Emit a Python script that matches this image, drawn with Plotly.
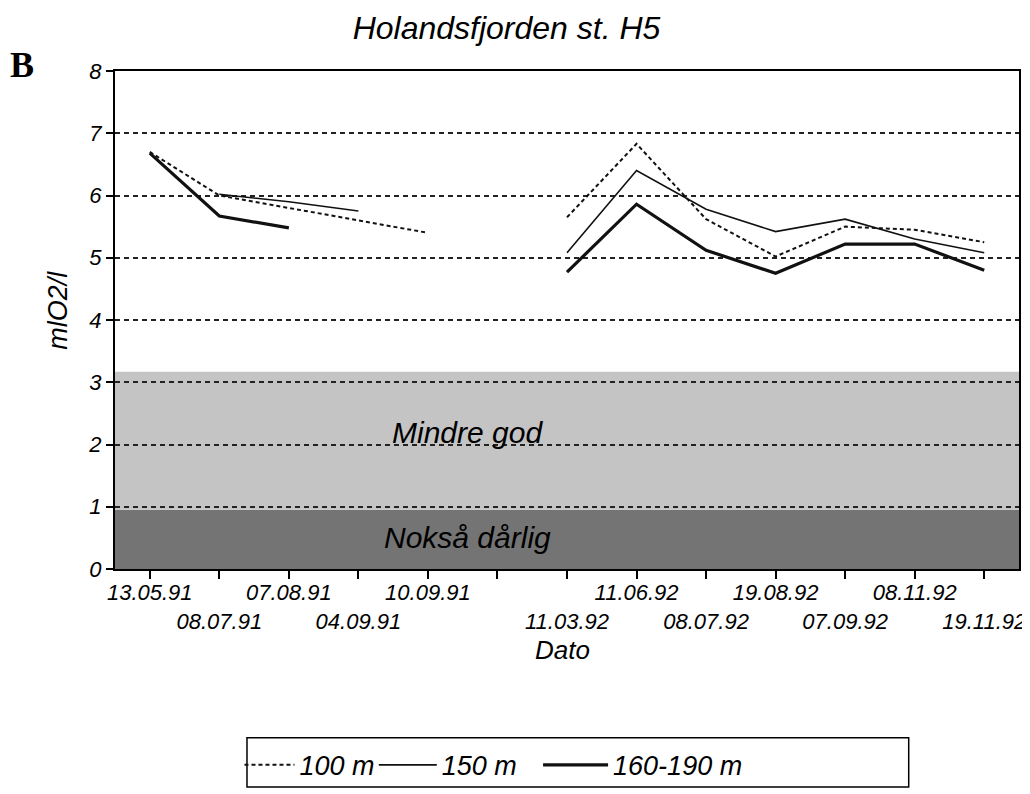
import plotly.graph_objects as go

# ---------------- data ----------------
dates = ["13.05.91", "08.07.91", "07.08.91", "04.09.91", "10.09.91", "gap",
         "11.03.92", "11.06.92", "08.07.92", "19.08.92", "07.09.92", "08.11.92", "19.11.92"]
tick_labels = ["13.05.91", "<br>08.07.91", "07.08.91", "<br>04.09.91", "10.09.91", "",
               "<br>11.03.92", "11.06.92", "<br>08.07.92", "19.08.92", "<br>07.09.92", "08.11.92", "<br>19.11.92"]

o2_100m = [6.70, 6.00, 5.80, 5.60, 5.40, None, 5.65, 6.83, 5.62, 5.02, 5.50, 5.45, 5.25]
o2_150m = [None, 6.02, 5.90, 5.75, None, None, 5.08, 6.40, 5.78, 5.42, 5.62, 5.30, 5.08]
o2_160_190m = [6.68, 5.67, 5.48, None, None, None, 4.77, 5.86, 5.12, 4.75, 5.22, 5.22, 4.80]

series_names = ["100 m", "150 m", "160-190 m"]

band_limits = [0, 0.95, 3.17]       # Nokså dårlig / Mindre god
band_labels = ["Nokså dårlig", "Mindre god"]
y_ticks = [0, 1, 2, 3, 4, 5, 6, 7, 8]

FONT = "Liberation Sans"
ital = dict(family=FONT, color="black", style="italic")

fig = go.Figure()

styles = [
    dict(color="#111111", width=2, dash="4px,3px"),
    dict(color="#111111", width=1.6),
    dict(color="#111111", width=3.2),
]
legend_ids = ["legend", "legend2", "legend3"]
for name, vals, st, lg in zip(series_names, [o2_100m, o2_150m, o2_160_190m], styles, legend_ids):
    fig.add_trace(go.Scatter(x=dates, y=vals, mode="lines", name=name,
                             line=st, connectgaps=False, legend=lg))

# quality bands
band_colors = ["#747474", "#c4c4c4"]
for lo, hi, col in zip(band_limits[:-1], band_limits[1:], band_colors):
    fig.add_shape(type="rect", xref="paper", yref="y", x0=0, x1=1, y0=lo, y1=hi,
                  fillcolor=col, line=dict(width=0), layer="between")

band_text_y = [0.5, 2.2]
for lab, yv in zip(band_labels, band_text_y):
    fig.add_annotation(text=lab, xref="paper", yref="y", x=0.39, y=yv,
                       xanchor="center", yanchor="middle",
                       showarrow=False, font=dict(size=30, **ital))

# panel letter
fig.add_annotation(text="<b>B</b>", xref="paper", yref="paper", x=-0.1025, y=1.012,
                   xanchor="center", yanchor="middle",
                   showarrow=False, font=dict(size=36, family="Liberation Serif", color="black"))
# y axis title
fig.add_annotation(text="mlO2/l", xref="paper", yref="paper", x=-0.064, y=0.519,
                   xanchor="center", yanchor="middle",
                   textangle=-90, showarrow=False, font=dict(size=27, **ital))
# x axis title
fig.add_annotation(text="Dato", xref="paper", yref="paper", x=0.495, y=-0.162,
                   xanchor="center", yanchor="middle",
                   showarrow=False, font=dict(size=26, **ital))

# legend box
fig.add_shape(type="rect", xref="paper", yref="paper", x0=0.146, x1=0.878,
              y0=-0.438, y1=-0.339, line=dict(color="black", width=1.5),
              fillcolor="white", layer="above")

leg_common = dict(orientation="h", y=-0.345, xanchor="left", yanchor="top",
                  font=dict(size=27, **ital), bgcolor="rgba(0,0,0,0)")

fig.update_layout(
    width=1030, height=794,
    margin=dict(l=107, r=15, t=63, b=224),
    paper_bgcolor="white", plot_bgcolor="white",
    title=dict(text="Holandsfjorden st. H5", x=0.484, xanchor="center", xref="container",
               y=0.975, yanchor="middle", yref="container", font=dict(size=32, **ital)),
    showlegend=True,
    legend=dict(x=0.1377, itemwidth=50, **leg_common),
    legend2=dict(x=0.2863, itemwidth=58, **leg_common),
    legend3=dict(x=0.468, itemwidth=65, **leg_common),
    xaxis=dict(type="category", categoryorder="array", categoryarray=dates,
               range=[-0.5, 12.5], tickmode="array", tickvals=dates, ticktext=tick_labels,
               tickangle=0, ticklabelstandoff=-5,
               ticks="outside", ticklen=8, tickwidth=1.5, tickcolor="black",
               showline=True, linecolor="black", linewidth=2, mirror=True,
               showgrid=False, zeroline=False,
               tickfont=dict(size=22, **ital)),
    yaxis=dict(range=[0, 8], tickvals=y_ticks, ticks="outside", ticklen=7,
               tickwidth=1.5, tickcolor="black",
               showline=True, linecolor="black", linewidth=2, mirror=True,
               showgrid=True, gridcolor="#222222", gridwidth=2, griddash="5px,4px",
               zeroline=False, tickfont=dict(size=22, **ital)),
)

fig.write_html("out.html")
